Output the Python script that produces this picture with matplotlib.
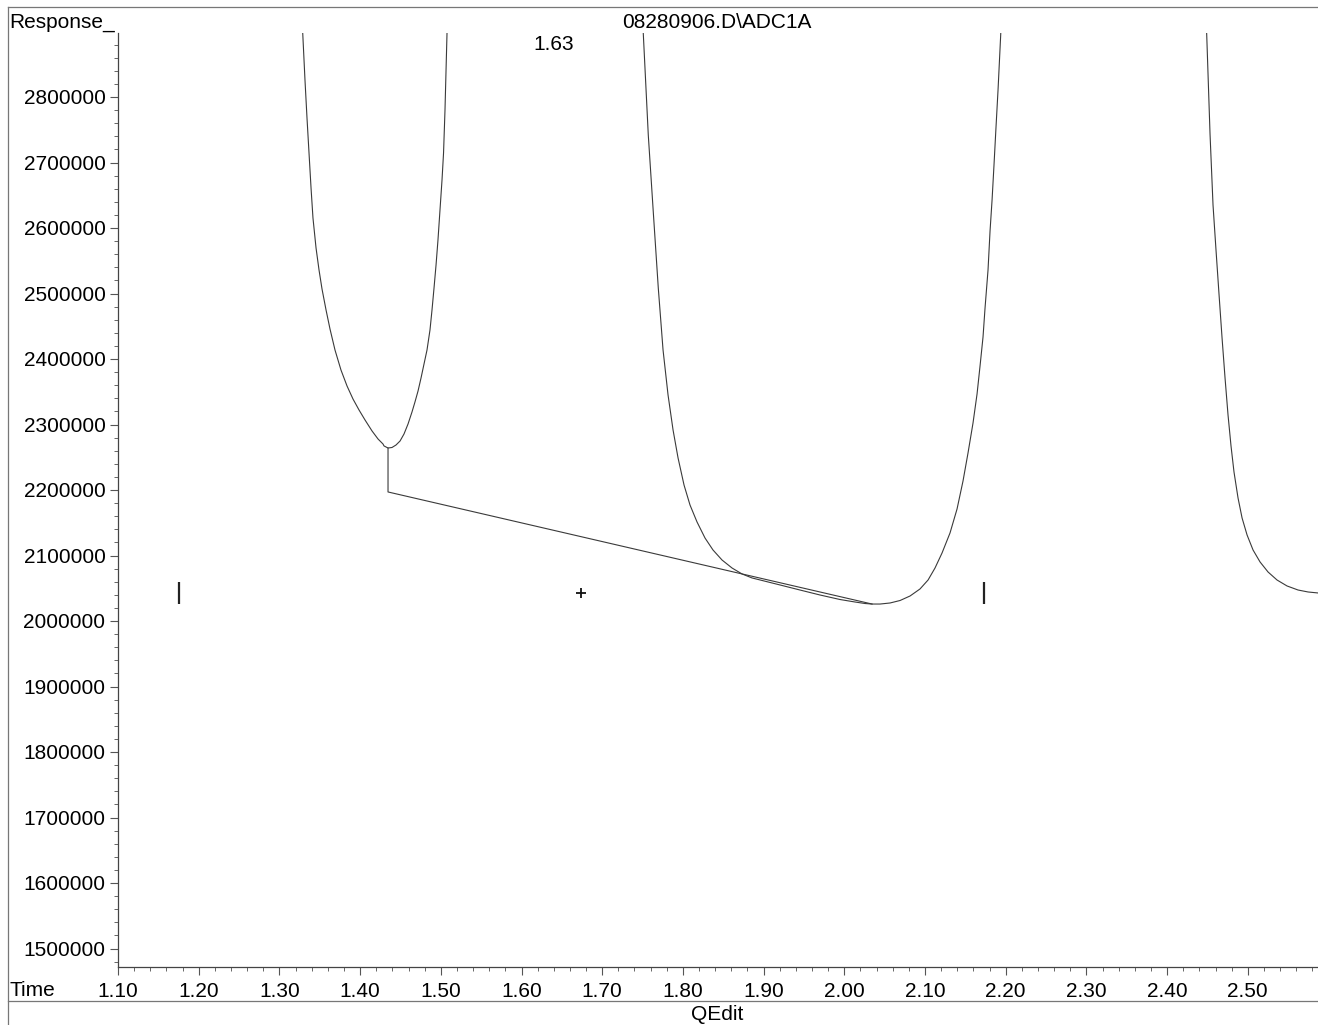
import matplotlib
matplotlib.use("Agg")
import matplotlib.pyplot as plt
from matplotlib.lines import Line2D
from matplotlib.ticker import MultipleLocator, FormatStrFormatter
import matplotlib.transforms as mtransforms

plt.rcParams['font.family'] = ['Liberation Sans', 'DejaVu Sans']

# signal trace (values above ~2.9e6 are off-scale)
peak1_t = [1.3255, 1.3289, 1.3317, 1.3342, 1.3367, 1.3392, 1.3416, 1.3454, 1.3491,
           1.3528, 1.3578, 1.3627, 1.3689, 1.3763, 1.3838, 1.3912, 1.3987, 1.4061,
           1.4148, 1.4222, 1.4284, 1.4296, 1.4346, 1.4395, 1.4445, 1.4495, 1.4544,
           1.4594, 1.4643, 1.4680, 1.4718, 1.4755, 1.4792, 1.4829, 1.4866, 1.4891,
           1.4916, 1.4941, 1.4965, 1.4990, 1.5015, 1.5034, 1.5052, 1.5077, 1.5102]
peak1_y = [2994000, 2897700, 2826000, 2767900, 2714500, 2661100, 2615300, 2569500, 2535900,
           2506900, 2474800, 2445800, 2413700, 2383200, 2358800, 2338900, 2322100, 2306900,
           2290100, 2277900, 2270200, 2267300, 2264100, 2264900, 2268700, 2274800, 2285500,
           2300800, 2319100, 2334400, 2351200, 2371000, 2392400, 2413700, 2444300, 2474800,
           2508400, 2543500, 2581700, 2627500, 2673300, 2714500, 2780200, 2897700, 2994000]

apex1_t, apex1_y = [1.63], [4500000]

peak2_t = [1.7469, 1.7510, 1.7571, 1.7633, 1.7695, 1.7754, 1.7816, 1.7878, 1.7940,
           1.8014, 1.8088, 1.8175, 1.8274, 1.8373, 1.8485, 1.8609, 1.8733, 1.8857,
           1.9204, 1.9451, 1.9699, 1.9947, 2.0133, 2.0257, 2.0344, 2.0443, 2.0567,
           2.0691, 2.0815, 2.0938, 2.1038, 2.1124, 2.1211, 2.1310, 2.1397, 2.1471,
           2.1533, 2.1595, 2.1645, 2.1682, 2.1719, 2.1744, 2.1781, 2.1806, 2.1831,
           2.1855, 2.1880, 2.1905, 2.1938, 2.1967]
peak2_y = [2994000, 2894700, 2742000, 2624400, 2508400, 2413700, 2345000, 2291600, 2248900,
           2207600, 2177100, 2151200, 2126700, 2108400, 2093100, 2080900, 2071800, 2065700,
           2055000, 2047300, 2039700, 2032800, 2029000, 2026700, 2025900, 2025900, 2027500,
           2031300, 2038200, 2048900, 2062600, 2080900, 2103800, 2134400, 2171000, 2213700,
           2256500, 2302300, 2346600, 2389300, 2433600, 2477900, 2535900, 2595400, 2642700,
           2696200, 2754200, 2810700, 2894700, 2994000]

apex2_t, apex2_y = [2.32], [4500000]

peak3_t = [2.4458, 2.4491, 2.4532, 2.4569, 2.4606, 2.4644, 2.4681, 2.4718, 2.4755,
           2.4792, 2.4829, 2.4879, 2.4929, 2.4991, 2.5065, 2.5152, 2.5251, 2.5362,
           2.5486, 2.5623, 2.5747, 2.5870, 2.5950]
peak3_y = [2994000, 2894700, 2743500, 2635100, 2566400, 2497700, 2432100, 2371000, 2314500,
           2267200, 2227500, 2187800, 2157300, 2131300, 2108400, 2090100, 2074800, 2062600,
           2053500, 2047300, 2044300, 2042800, 2042000]

time = peak1_t + apex1_t + peak2_t + apex2_t + peak3_t
response = peak1_y + apex1_y + peak2_y + apex2_y + peak3_y

# integration baseline (drop line + baseline to valley)
base_time = [1.4346, 1.4346, 2.0344]
base_resp = [2264100, 2197000, 2025900]

# event markers
tick_marks_t = [1.175, 2.173]
plus_mark_t = [1.674]
mark_level = 2043000

peak_rt = "1.63"
peak_rt_pos = 1.640

W, H = 1318, 1025
fig = plt.figure(figsize=(W / 100, H / 100), dpi=100)
fig.patch.set_facecolor('white')

ax = fig.add_axes([118 / W, 1 - 967 / H, 1 - 118 / W, (967 - 33) / H])
line_col = '#3a3a3a'
ax.plot(time, response, color=line_col, lw=0.8)
ax.plot(base_time, base_resp, color=line_col, lw=0.8)

ax.scatter(tick_marks_t, [mark_level] * len(tick_marks_t), marker='|', s=260,
           color='#222222', linewidths=1.6)
ax.scatter(plus_mark_t, [mark_level], marker='+', s=60, color='#111111', linewidths=1.3)

ax.set_xlim(1.10, 1.10 + (1318 - 118) / 807)
ax.set_ylim(2800000 - (967 - 97) / 655 * 1e6, 2800000 + (97 - 33) / 655 * 1e6)

ax.xaxis.set_major_locator(MultipleLocator(0.1))
ax.xaxis.set_minor_locator(MultipleLocator(0.02))
ax.xaxis.set_major_formatter(FormatStrFormatter('%.2f'))
ax.yaxis.set_major_locator(MultipleLocator(100000))
ax.yaxis.set_minor_locator(MultipleLocator(20000))
ax.yaxis.set_major_formatter(FormatStrFormatter('%d'))

for s in ['top', 'right']:
    ax.spines[s].set_visible(False)
for s in ['left', 'bottom']:
    ax.spines[s].set_color('#444444')
    ax.spines[s].set_linewidth(0.9)

ax.tick_params(which='major', length=6, width=0.8, color='#555555', labelsize=15)
ax.tick_params(which='minor', length=3, width=0.7, color='#666666')
ax.tick_params(axis='y', which='major', pad=3)
ax.tick_params(axis='x', which='major', pad=5)

trans = mtransforms.blended_transform_factory(ax.transData, fig.transFigure)
ax.text(peak_rt_pos, 1 - 45 / H, peak_rt, transform=trans, ha='center',
        va='center', fontsize=15, clip_on=False)

fig.text(717 / W, 1 - 22 / H, "08280906.D\\ADC1A", ha='center', va='center', fontsize=15)
fig.text(9 / W, 1 - 22 / H, "Response_", ha='left', va='center', fontsize=15)
fig.text(9 / W, 1 - 990 / H, "Time", ha='left', va='center', fontsize=15)
fig.text(717 / W, 1 - 1015 / H, "QEdit", ha='center', va='center', fontsize=15)

# outer frame of the printout
frame_col = '#777777'
fig.add_artist(Line2D([8 / W, 1], [1 - 7 / H, 1 - 7 / H], color=frame_col, lw=0.9))
fig.add_artist(Line2D([8 / W, 8 / W], [0, 1 - 7 / H], color=frame_col, lw=0.9))
fig.add_artist(Line2D([8 / W, 1], [1 - 1001 / H, 1 - 1001 / H], color=frame_col, lw=0.9))

fig.savefig("out.png", dpi=100, facecolor='white')
